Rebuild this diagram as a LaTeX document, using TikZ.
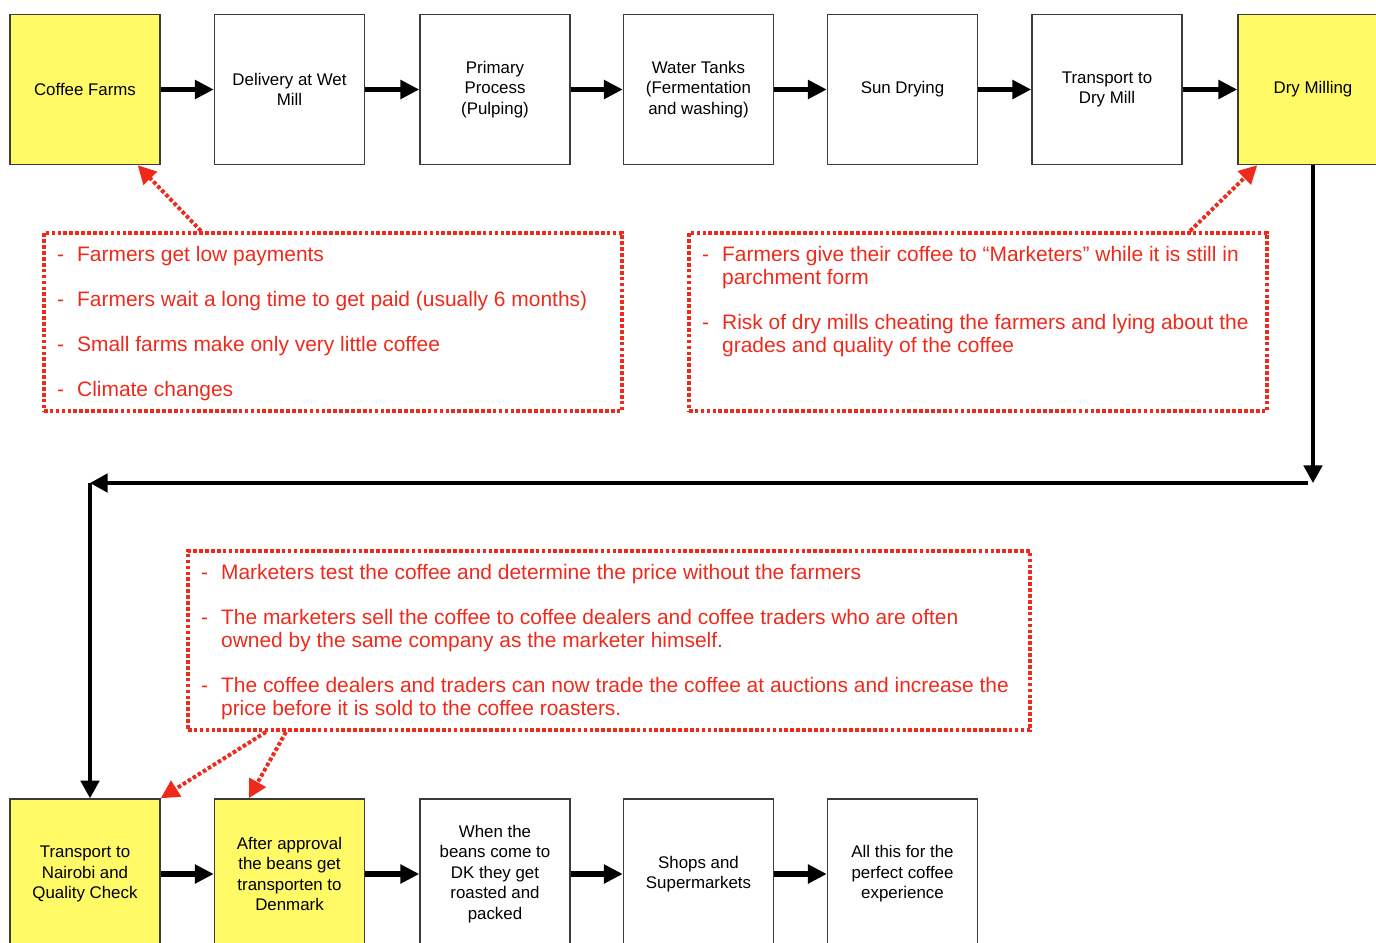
\documentclass[tikz,border=0pt]{standalone}
\usepackage{fontspec}
\setmainfont{Liberation Sans}
\usepackage{enumitem}
\usetikzlibrary{arrows.meta}
\definecolor{farmyellow}{RGB}{255,250,102}
\definecolor{issuered}{RGB}{238,42,28}
\definecolor{boxline}{RGB}{60,60,60}
% list of problems inside a red dotted frame
\newcommand{\problems}[3]{%
\begin{minipage}[t][#2][t]{#1}\raggedright\fontsize{14.9}{16.4}\selectfont
\begin{itemize}[label=-,leftmargin=0.5cm,labelsep=0.3cm,labelwidth=0.2cm,align=left,topsep=0pt,partopsep=0pt,parsep=0pt,itemsep=15.6pt]
#3
\end{itemize}
\end{minipage}}

\begin{document}
\begin{tikzpicture}[x=0.025cm,y=-0.025cm,
	stage/.style={draw=boxline,line width=1pt,minimum width=3.75cm,minimum height=3.75cm,inner sep=0pt,align=center,font=\fontsize{12}{14.6}\selectfont},
	stagey/.style={stage,fill=farmyellow},
	flow/.style={line width=3.6pt,-{Triangle[length=13.5pt,width=13pt]}},
	route/.style={line width=2.8pt,-{Triangle[length=12.5pt,width=13pt]}},
	issue/.style={draw=issuered,text=issuered,line width=2.8pt,dash pattern=on 2.6pt off 1.6pt,inner sep=0.33cm},
	note/.style={issuered,line width=2.8pt,dash pattern=on 2.6pt off 1.6pt,-{Triangle[length=13pt,width=13pt]}}]
	 \useasboundingbox (0,0) rectangle (1376,942);
	 %
	 \node (farms) at (85,89.5) [stagey] {Coffee Farms};
	 %
	 \node (wetmill) at (289.5,89.5) [stage] {Delivery at Wet\\Mill};
	 %
	 \node (pulping) at (495,89.5) [stage] {Primary\\Process\\(Pulping)};
	 %
	 \node (tanks) at (698.5,89.5) [stage] {Water Tanks\\(Fermentation\\and washing)};
	 %
	 \node (sun) at (902.5,89.5) [stage] {Sun Drying};
	 %
	 \node (transdry) at (1107,89.5) [stage] {Transport to\\Dry Mill};
	 %
	 \node (dry) at (1313,89.5) [stagey] {Dry Milling};
	 %
	 \node (nairobi) at (85,874) [stagey] {Transport to\\Nairobi and\\Quality Check};
	 %
	 \node (denmark) at (289.5,874) [stagey] {After approval\\the beans get\\transporten to\\Denmark};
	 %
	 \node (roast) at (495,874) [stage] {When the\\beans come to\\DK they get\\roasted and\\packed};
	 %
	 \node (shops) at (698.5,874) [stage] {Shops and\\Supermarkets};
	 %
	 \node (cup) at (902.5,874) [stage] {All this for the\\perfect coffee\\experience};
	 %
	 %Problems at the farms
	 \node (probfarm) at (333,322) [issue] {\problems{13.79cm}{3.79cm}{%
	 \item Farmers get low payments
	 \item Farmers wait a long time to get paid (usually 6 months)
	 \item Small farms make only very little coffee
	 \item Climate changes}};
	 %
	 %Problems at the dry mill
	 \node (probdry) at (978,322) [issue] {\problems{13.79cm}{3.79cm}{%
	 \item Farmers give their coffee to “Marketers” while it is still in\\parchment form
	 \item Risk of dry mills cheating the farmers and lying about the\\grades and quality of the coffee}};
	 %
	 %Problems with the marketers
	 \node (probmarket) at (609,640.5) [issue] {\problems{20.39cm}{3.815cm}{%
	 \item Marketers test the coffee and determine the price without the farmers
	 \item The marketers sell the coffee to coffee dealers and coffee traders who are often\\owned by the same company as the marketer himself.
	 \item The coffee dealers and traders can now trade the coffee at auctions and increase the\\price before it is sold to the coffee roasters.}};
	 %
	 \coordinate (turnA) at (1313,483);
	 \coordinate (turnB) at (90,483);
	 %
	 %Farms-Wet Mill
	 \draw[flow] (farms.east) -- (wetmill.west);
	 %
	 %Wet Mill-Pulping
	 \draw[flow] (wetmill.east) -- (pulping.west);
	 %
	 %Pulping-Tanks
	 \draw[flow] (pulping.east) -- (tanks.west);
	 %
	 %Tanks-Sun Drying
	 \draw[flow] (tanks.east) -- (sun.west);
	 %
	 %Sun Drying-Transport
	 \draw[flow] (sun.east) -- (transdry.west);
	 %
	 %Transport-Dry Milling
	 \draw[flow] (transdry.east) -- (dry.west);
	 %
	 %Dry Milling-Nairobi
	 \draw[route] (dry.south) -- (turnA);
	 \draw[route] ([xshift=-0.125cm]turnA) -- (turnB);
	 \draw[route] (turnB) -- (turnB |- nairobi.north);
	 %
	 %Nairobi-Denmark
	 \draw[flow] (nairobi.east) -- (denmark.west);
	 %
	 %Denmark-Roasting
	 \draw[flow] (denmark.east) -- (roast.west);
	 %
	 %Roasting-Shops
	 \draw[flow] (roast.east) -- (shops.west);
	 %
	 %Shops-Experience
	 \draw[flow] (shops.east) -- (cup.west);
	 %
	 %notes
	 \draw[note] ([xshift=3.975cm]probfarm.north west) -- ([xshift=-0.575cm]farms.south east);
	 \draw[note] ([xshift=12.575cm]probdry.north west) -- ([xshift=0.5cm]dry.south west);
	 \draw[note] ([xshift=2cm]probmarket.south west) -- (nairobi.north east);
	 \draw[note] ([xshift=2.5cm]probmarket.south west) -- ([xshift=0.875cm]denmark.north west);
\end{tikzpicture}
\end{document}
